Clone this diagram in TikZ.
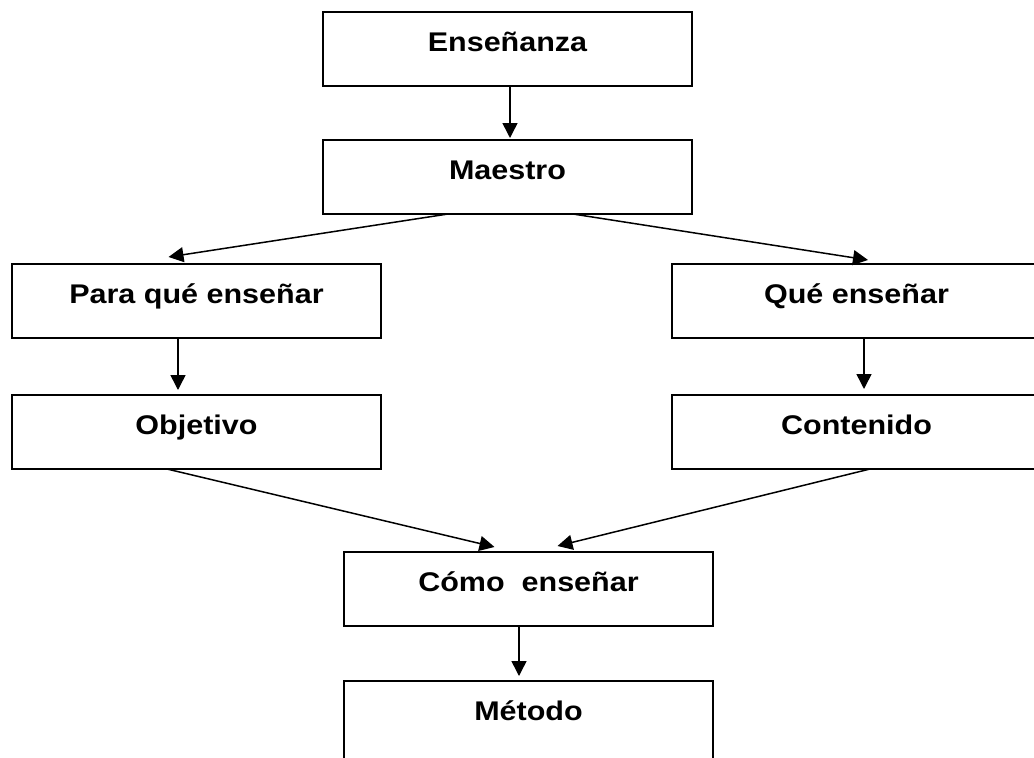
\documentclass[tikz,border=0pt]{standalone}
\usepackage{fontspec}
\setmainfont{Liberation Sans}[FakeStretch=1.13]
\usetikzlibrary{arrows.meta,calc}
\tikzset{
  box/.style={draw=black, line width=1.8pt, rectangle, anchor=north west,
    minimum width=369pt, minimum height=74pt, inner sep=0pt, outer sep=0pt},
  lbl/.style={anchor=base, font=\fontsize{27pt}{30pt}\selectfont\bfseries, inner sep=0pt},
  arr/.style={line width=1.5pt, -{Triangle[length=15pt,width=15pt]}}
}
\begin{document}
\begin{tikzpicture}[x=1pt,y=-1pt]
\useasboundingbox (0,0) rectangle (1034,758);
\clip (0,0) rectangle (1034,758);
\fill[white] (0,0) rectangle (1034,758);
% boxes
\node[box] (ens) at (323,12) {};
\node[box] (mae) at (323,140) {};
\node[box] (para) at (12,264) {};
\node[box] (que) at (672,264) {};
\node[box] (obj) at (12,395) {};
\node[box] (cont) at (672,395) {};
\node[box] (como) at (344,552) {};
\node[box, minimum height=110pt] (met) at (344,681) {};
% labels
\node[lbl] (tens) at ([yshift=-39pt]ens.north) {Enseñanza};
\node[lbl] (tmae) at ([yshift=-39pt]mae.north) {Maestro};
\node[lbl] (tpara) at ([yshift=-39pt]para.north) {Para qué enseñar};
\node[lbl] (tque) at ([yshift=-39pt]que.north) {Qué enseñar};
\node[lbl] (tobj) at ([yshift=-39pt]obj.north) {Objetivo};
\node[lbl] (tcont) at ([yshift=-39pt]cont.north) {Contenido};
\node[lbl] (tcomo) at ([yshift=-39pt]como.north) {Cómo\ \ enseñar};
\node[lbl] (tmet) at ([yshift=-39pt]met.north) {Método};
% connector end points
\coordinate (e1) at ([xshift=2.5pt]ens.south);
\coordinate (e2) at ([xshift=2.5pt,yshift=2pt]mae.north);
\coordinate (m1) at ([xshift=-59.5pt]mae.south);
\coordinate (m2) at ([xshift=65.5pt]mae.south);
\coordinate (p1) at ([xshift=-28pt,yshift=7pt]para.north);
\coordinate (q1) at ([xshift=11.5pt,yshift=4pt]que.north);
\coordinate (p2) at ([xshift=-18.5pt]para.south);
\coordinate (o1) at ([xshift=-18.5pt,yshift=5pt]obj.north);
\coordinate (q2) at ([xshift=7.5pt]que.south);
\coordinate (c1) at ([xshift=7.5pt,yshift=6pt]cont.north);
\coordinate (o2) at ([xshift=-29.5pt]obj.south);
\coordinate (c2) at ([xshift=13.5pt]cont.south);
\coordinate (k1) at ([xshift=-34pt,yshift=5pt]como.north);
\coordinate (k2) at ([xshift=29pt,yshift=6pt]como.north);
\coordinate (k3) at ([xshift=-9.5pt]como.south);
\coordinate (t1) at ([xshift=-9.5pt,yshift=5pt]met.north);
% connectors
\draw[arr] (e1) -- (e2);
\draw[arr] (m1) -- (p1);
\draw[arr] (m2) -- (q1);
\draw[arr] (p2) -- (o1);
\draw[arr] (q2) -- (c1);
\draw[arr] (o2) -- (k1);
\draw[arr] (c2) -- (k2);
\draw[arr] (k3) -- (t1);
\end{tikzpicture}
\end{document}
